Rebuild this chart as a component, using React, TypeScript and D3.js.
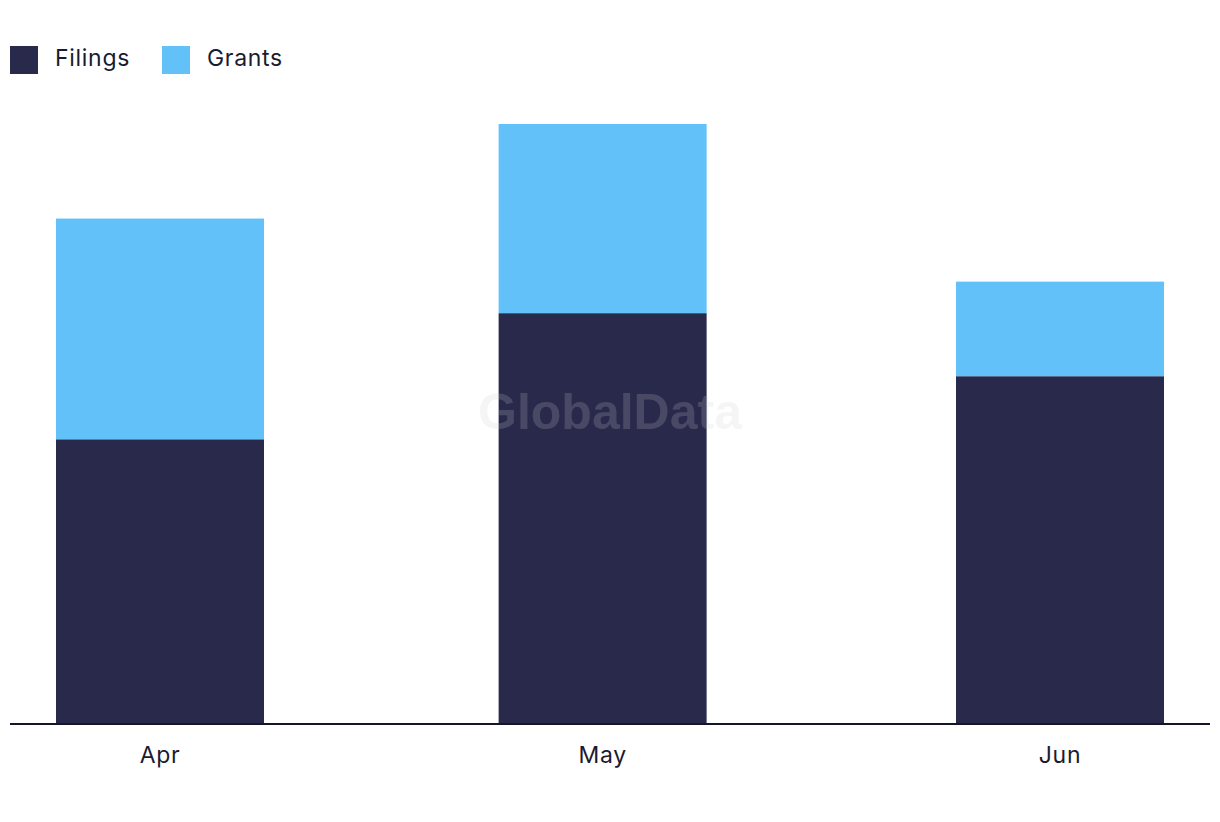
import React from "react";
import * as d3 from "d3";

const months = ["2023-04-01", "2023-05-01", "2023-06-01"];
const monthLabels = ["Apr", "May", "Jun"];
const filings = [9, 13, 11];
const grants = [7, 6, 3];
const seriesNames = ["Filings", "Grants"];
const colors = ["#29294c", "#62c1f9"];

const W = 1220;
const H = 822;

export default function App() {
  const parse = d3.timeParse("%Y-%m-%d");
  const dates = months.map((m) => parse(m) as Date);
  const x = d3.scaleTime().domain([dates[0], dates[dates.length - 1]]).range([160, 1060]);
  const baseY = 723;
  const y = d3.scaleLinear().domain([0, 19]).range([baseY, 124]);
  const barW = 208;

  const table = dates.map((d, i) => ({ date: d, label: monthLabels[i], Filings: filings[i], Grants: grants[i] }));
  const stacked = d3.stack<any>().keys(seriesNames)(table);

  const font = "Inter, 'Open Sans', sans-serif";
  const textColor = "#1b1b2f";

  return (
    <svg width={W} height={H} style={{ position: "absolute", left: 0, top: 0, background: "#fff" }}>
      {/* legend */}
      {seriesNames.map((s, i) => {
        const lx = [10, 162][i];
        return (
          <g key={s}>
            <rect x={lx} y={46} width={28} height={28} fill={colors[i]} />
            <text x={lx + 45} y={58} dy="0.35em" fontFamily={font} fontSize={23} letterSpacing={0.7} fill={textColor}>
              {s}
            </text>
          </g>
        );
      })}
      {/* bars */}
      {stacked.map((layer, si) => (
        <g key={layer.key} fill={colors[si]}>
          {layer.map((d: any, i: number) => (
            <rect
              key={i}
              x={x(d.data.date) - barW / 2}
              y={y(d[1])}
              width={barW}
              height={y(d[0]) - y(d[1])}
            />
          ))}
        </g>
      ))}
      {/* baseline */}
      <line x1={10} x2={1210} y1={baseY + 1} y2={baseY + 1} stroke="#15152a" strokeWidth={2} />
      {/* x labels */}
      {table.map((d, i) => (
        <text
          key={i}
          x={x(d.date)}
          y={755}
          dy="0.35em"
          textAnchor="middle"
          fontFamily={font}
          fontSize={23}
          letterSpacing={0.7}
          fill={textColor}
        >
          {d.label}
        </text>
      ))}
      {/* watermark */}
      <text
        x={610}
        y={411}
        dy="0.35em"
        textAnchor="middle"
        fontFamily="'Liberation Sans', Arial, sans-serif"
        fontWeight="bold"
        fontSize={50}
        fill="#cccccc"
        fillOpacity={0.2}
      >
        GlobalData
      </text>
    </svg>
  );
}
